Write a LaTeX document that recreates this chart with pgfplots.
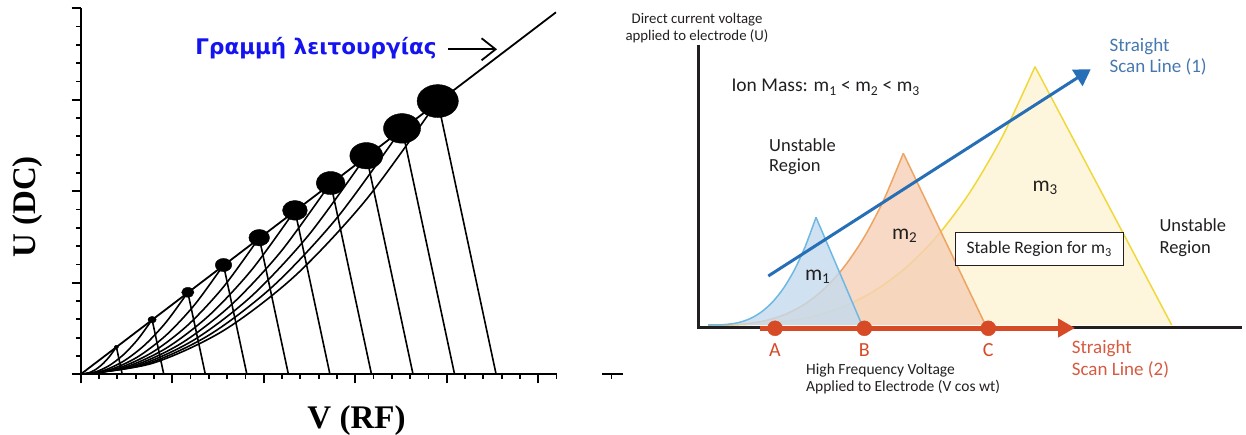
\documentclass[border=0pt]{standalone}
\usepackage{fontspec}
\setmainfont{Liberation Serif}
\newfontfamily\greekfont{DejaVu Sans}
\newfontfamily\rfont{Carlito}
\usepackage{pgfplots}
\pgfplotsset{compat=1.18}
\usetikzlibrary{arrows.meta}
\definecolor{ink}{RGB}{35,31,32}
\definecolor{scanblue}{RGB}{38,110,182}
\definecolor{scanbluetxt}{RGB}{70,120,176}
\definecolor{scanred}{RGB}{214,74,38}
\definecolor{scanredtxt}{RGB}{214,90,64}
\definecolor{mOneFill}{RGB}{196,218,238}
\definecolor{mOneLine}{RGB}{110,185,228}
\definecolor{mTwoFill}{RGB}{245,208,182}
\definecolor{mTwoLine}{RGB}{238,164,98}
\definecolor{mThreeFill}{RGB}{253,245,214}
\definecolor{mThreeLine}{RGB}{240,216,60}
\definecolor{greekblue}{RGB}{20,20,240}
\begin{document}
\begin{tikzpicture}
\useasboundingbox (0,0) rectangle (1246pt,435pt);
% ---------------- left panel ----------------
\begin{axis}[
  at={(80.7pt,60.7pt)}, anchor=south west,
  x=18.3pt, y=18.3pt,
  xmin=0, xmax=26.05, ymin=0, ymax=20,
  enlargelimits=false, clip=false,
  axis lines=left, axis line style={-, line width=2.2pt, black},
  xtick={0,5,...,25}, ytick={0,5,...,20},
  minor xtick={0,...,26}, minor ytick={0,...,20},
  xticklabels={}, yticklabels={},
  tick align=outside,
  major tick length=9pt, minor tick length=4.5pt,
  tick style={line width=1.8pt, black},
]
\addplot[black, line width=1.8pt] coordinates {(0,0)(25.97,19.78)};
% left boundaries (curves)
\addplot[black, line width=1.6pt, smooth] coordinates {(0,0)(0.39,0.06)(0.78,0.239)(1.171,0.5375)(1.561,0.956)(1.951,1.493)};
\addplot[black, line width=1.6pt, smooth] coordinates {(0,0)(0.78,0.119)(1.561,0.478)(2.341,1.075)(3.122,1.911)(3.902,2.986)};
\addplot[black, line width=1.6pt, smooth] coordinates {(0,0)(1.171,0.179)(2.341,0.717)(3.512,1.613)(4.682,2.867)(5.853,4.479)};
\addplot[black, line width=1.6pt, smooth] coordinates {(0,0)(1.561,0.239)(3.122,0.956)(4.682,2.15)(6.243,3.822)(7.804,5.972)};
\addplot[black, line width=1.6pt, smooth] coordinates {(0,0)(1.951,0.299)(3.902,1.195)(5.853,2.688)(7.804,4.778)(9.755,7.465)};
\addplot[black, line width=1.6pt, smooth] coordinates {(0,0)(2.341,0.358)(4.682,1.433)(7.024,3.225)(9.365,5.733)(11.706,8.958)};
\addplot[black, line width=1.6pt, smooth] coordinates {(0,0)(2.731,0.418)(5.463,1.672)(8.194,3.763)(10.926,6.689)(13.657,10.451)};
\addplot[black, line width=1.6pt, smooth] coordinates {(0,0)(3.122,0.478)(6.243,1.911)(9.365,4.3)(12.486,7.644)(15.608,11.944)};
\addplot[black, line width=1.6pt, smooth] coordinates {(0,0)(3.512,0.537)(7.024,2.15)(10.535,4.838)(14.047,8.6)(17.559,13.437)};
\addplot[black, line width=1.6pt, smooth] coordinates {(0,0)(3.902,0.597)(7.804,2.389)(11.706,5.375)(15.608,9.555)(19.51,14.93)};
% right boundaries (straight)
\addplot[black, line width=1.6pt] coordinates {(1.951,1.493)(2.27,0)};
\addplot[black, line width=1.6pt] coordinates {(3.902,2.986)(4.54,0)};
\addplot[black, line width=1.6pt] coordinates {(5.853,4.479)(6.81,0)};
\addplot[black, line width=1.6pt] coordinates {(7.804,5.972)(9.08,0)};
\addplot[black, line width=1.6pt] coordinates {(9.755,7.465)(11.35,0)};
\addplot[black, line width=1.6pt] coordinates {(11.706,8.958)(13.62,0)};
\addplot[black, line width=1.6pt] coordinates {(13.657,10.451)(15.89,0)};
\addplot[black, line width=1.6pt] coordinates {(15.608,11.944)(18.16,0)};
\addplot[black, line width=1.6pt] coordinates {(17.559,13.437)(20.43,0)};
\addplot[black, line width=1.6pt] coordinates {(19.51,14.93)(22.7,0)};
% apex dots
\addplot[only marks, mark=*, mark size=1.65pt, mark options={xscale=1.25, fill=black, draw=black}] coordinates {(1.951,1.493)};
\addplot[only marks, mark=*, mark size=3.3pt, mark options={xscale=1.25, fill=black, draw=black}] coordinates {(3.902,2.986)};
\addplot[only marks, mark=*, mark size=4.95pt, mark options={xscale=1.25, fill=black, draw=black}] coordinates {(5.853,4.479)};
\addplot[only marks, mark=*, mark size=6.6pt, mark options={xscale=1.25, fill=black, draw=black}] coordinates {(7.804,5.972)};
\addplot[only marks, mark=*, mark size=8.25pt, mark options={xscale=1.25, fill=black, draw=black}] coordinates {(9.755,7.465)};
\addplot[only marks, mark=*, mark size=9.9pt, mark options={xscale=1.25, fill=black, draw=black}] coordinates {(11.706,8.958)};
\addplot[only marks, mark=*, mark size=11.55pt, mark options={xscale=1.25, fill=black, draw=black}] coordinates {(13.657,10.451)};
\addplot[only marks, mark=*, mark size=13.2pt, mark options={xscale=1.25, fill=black, draw=black}] coordinates {(15.608,11.944)};
\addplot[only marks, mark=*, mark size=14.85pt, mark options={xscale=1.25, fill=black, draw=black}] coordinates {(17.559,13.437)};
\addplot[only marks, mark=*, mark size=16.5pt, mark options={xscale=1.25, fill=black, draw=black}] coordinates {(19.51,14.93)};
% stray axis piece
\addplot[black, line width=2.2pt] coordinates {(28.5,0)(29.65,0)};
\addplot[black, line width=1.8pt] coordinates {(29,0)(29,-0.25)};
% label + arrow
\node[anchor=base, text=greekblue, font=\greekfont\bfseries\fontsize{21.5}{24}\selectfont] at (axis cs:12.86,17.45) {Γραμμή λειτουργίας};
\draw[black, line width=1.8pt, -{Straight Barb[length=14pt,width=22pt,line width=1.8pt]}] (axis cs:20.07,17.76) -- (axis cs:22.75,17.76);
\end{axis}
\node[rotate=90, font=\bfseries\fontsize{33}{36}\selectfont] at (28pt,228pt) {U (DC)};
\node[anchor=base, font=\bfseries\fontsize{33}{36}\selectfont] at (356.5pt,6.7pt) {V (RF)};
% ---------------- right panel ----------------
\begin{axis}[
  at={(600pt,0pt)}, anchor=south west,
  width=646pt, height=435pt, scale only axis,
  xmin=600, xmax=1246, ymin=0, ymax=435, y dir=reverse,
  hide axis, clip=false, enlargelimits=false,
]
% m3
\addplot[fill=mThreeFill, fill opacity=0.85, draw=none] coordinates {(708,325)(740.7,324.7)(773.4,322.9)(806.1,318.0)(838.8,308.5)(871.5,292.7)(904.2,269.2)(936.9,236.4)(969.6,192.7)(1002.3,136.7)(1035,66.7)(1171.7,325)} -- cycle;
\addplot[draw=mThreeLine, line width=1.5pt, smooth] coordinates {(708,325)(740.7,324.7)(773.4,322.9)(806.1,318.0)(838.8,308.5)(871.5,292.7)(904.2,269.2)(936.9,236.4)(969.6,192.7)(1002.3,136.7)(1035,66.7)};
\addplot[draw=mThreeLine, line width=1.5pt] coordinates {(1035,66.7)(1171.7,325)};
% m2
\addplot[fill=mTwoFill, fill opacity=0.8, draw=none] coordinates {(708,325)(727.5,324.8)(747.1,323.6)(766.6,320.4)(786.1,314.0)(805.7,303.5)(825.2,287.9)(844.7,266.1)(864.2,237.1)(883.8,199.8)(903.3,153.3)(985.5,325)} -- cycle;
\addplot[draw=mTwoLine, line width=1.5pt, smooth] coordinates {(708,325)(727.5,324.8)(747.1,323.6)(766.6,320.4)(786.1,314.0)(805.7,303.5)(825.2,287.9)(844.7,266.1)(864.2,237.1)(883.8,199.8)(903.3,153.3)};
\addplot[draw=mTwoLine, line width=1.5pt] coordinates {(903.3,153.3)(985.5,325)};
% m1
\addplot[fill=mOneFill, fill opacity=0.8, draw=none] coordinates {(708,325)(718.8,324.9)(729.6,324.1)(740.4,322.1)(751.2,318.1)(762,311.5)(772.8,301.7)(783.6,288.1)(794.4,269.9)(805.2,246.5)(816,217.3)(862,325)} -- cycle;
\addplot[draw=mOneLine, line width=1.5pt, smooth] coordinates {(708,325)(718.8,324.9)(729.6,324.1)(740.4,322.1)(751.2,318.1)(762,311.5)(772.8,301.7)(783.6,288.1)(794.4,269.9)(805.2,246.5)(816,217.3)};
\addplot[draw=mOneLine, line width=1.5pt] coordinates {(816,217.3)(862,325)};
% axes
\addplot[ink, line width=2.5pt, line join=miter] coordinates {(698.3,45)(698.3,327.7)(1241.7,327.7)};
% scan line 2
\addplot[scanred, line width=5pt, -{Triangle[length=17pt,width=18pt]}] coordinates {(760,328)(1075,328)};
\addplot[only marks, mark=*, mark size=7.5pt, mark options={fill=scanred, draw=scanred}] coordinates {(775,328.3)(864.3,328.3)(988.3,328.3)};
% scan line 1
\addplot[scanblue, line width=3pt, -{Triangle[length=16pt,width=19pt]}] coordinates {(768.3,276)(1090.7,69.3)};
% texts
\node[align=center, text=ink, font=\rfont\fontsize{14.8}{17.7}\selectfont] at (axis cs:697,28) {Direct current voltage\\applied to electrode (U)};
\node[anchor=base west, text=ink, font=\rfont\fontsize{19.5}{21}\selectfont] at (axis cs:728,92) {Ion Mass: m\textsubscript{1} < m\textsubscript{2} < m\textsubscript{3}};
\node[anchor=base west, align=left, text=ink, font=\rfont\fontsize{18.5}{20}\selectfont] at (axis cs:765.7,171.7) {Unstable\\Region};
\node[anchor=base west, align=left, text=ink, font=\rfont\fontsize{18.5}{21.7}\selectfont] at (axis cs:1156,253.4) {Unstable\\Region};
\node[anchor=base west, align=left, text=scanbluetxt, font=\rfont\fontsize{19}{20.7}\selectfont] at (axis cs:1106,72.4) {Straight\\Scan Line (1)};
\node[anchor=base west, align=left, text=scanredtxt, font=\rfont\fontsize{19}{21.7}\selectfont] at (axis cs:1068.3,375) {Straight\\Scan Line (2)};
\node[anchor=base west, align=left, text=ink, font=\rfont\fontsize{15.5}{17.3}\selectfont] at (axis cs:802.7,391.3) {High Frequency Voltage\\Applied to Electrode (V cos wt)};
\node[anchor=base west, text=ink, font=\rfont\fontsize{21.5}{23}\selectfont] at (axis cs:801.5,280) {m\textsubscript{1}};
\node[anchor=base west, text=ink, font=\rfont\fontsize{21.5}{23}\selectfont] at (axis cs:888.5,239.3) {m\textsubscript{2}};
\node[anchor=base west, text=ink, font=\rfont\fontsize{21.5}{23}\selectfont] at (axis cs:1029,191.7) {m\textsubscript{3}};
\node[draw=ink, fill=white, line width=1.2pt, minimum width=168pt, minimum height=33pt, text=ink, font=\rfont\fontsize{17.5}{19}\selectfont] at (axis cs:1039.2,249.2) {Stable Region for m\textsubscript{3}};
\node[anchor=base, text=scanred, font=\rfont\fontsize{20}{22}\selectfont] at (axis cs:775,356) {A};
\node[anchor=base, text=scanred, font=\rfont\fontsize{20}{22}\selectfont] at (axis cs:864.3,356) {B};
\node[anchor=base, text=scanred, font=\rfont\fontsize{20}{22}\selectfont] at (axis cs:988.3,356) {C};
\end{axis}
\end{tikzpicture}
\end{document}
